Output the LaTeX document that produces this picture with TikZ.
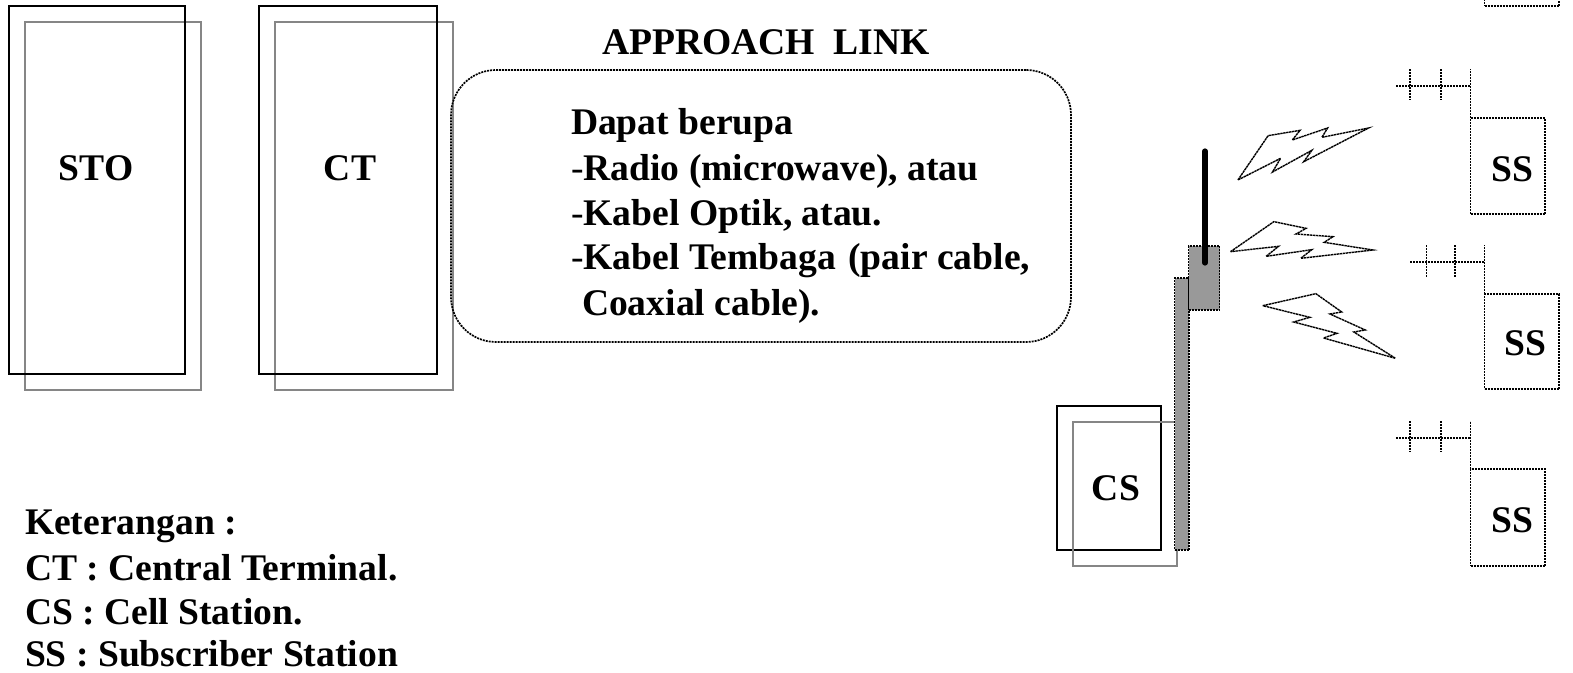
\documentclass[tikz,border=0pt]{standalone}
\usepackage{fontspec}
\setmainfont{Liberation Serif}
\tikzset{
  x=1pt,y=-1pt,
  solidbox/.style={draw=black,line width=1.8pt,inner sep=0,outer sep=0,anchor=north west},
  shadowbox/.style={draw=gray!95,line width=1.8pt,inner sep=0,outer sep=0,anchor=north west},
  dense/.style={draw=black,line width=1.7pt,dash pattern=on 2pt off 1pt},
  densebox/.style={dense,inner sep=0,outer sep=0,anchor=north west},
  graybox/.style={densebox,fill=gray!80!white},
  label/.style={anchor=base west,inner sep=0,outer sep=0,font=\fontsize{37.6}{44}\selectfont\bfseries},
  clabel/.style={label,anchor=base},
  bolt/.style={draw=black,line width=1.4pt,dash pattern=on 2.4pt off 0.6pt,fill=white},
  zoomed/.style={shift={(1042,0)},x=0.336pt,y=-0.33333pt}
}
\begin{document}
\begin{tikzpicture}
\useasboundingbox (0,0) rectangle (1573,672);
\clip (0,0) rectangle (1573,672);
% terminals
\node[shadowbox,minimum width=176pt,minimum height=368pt] (stoB) at (25,22) {};
\node[solidbox,minimum width=176pt,minimum height=368pt] (stoA) at (9,6) {};
\node[shadowbox,minimum width=178pt,minimum height=368pt] (ctB) at (275,22) {};
\node[solidbox,minimum width=178pt,minimum height=368pt] (ctA) at (259,6) {};
\node[clabel] (stoT) at (96,180) {STO};
\node[clabel] (ctT) at (350,180) {CT};
% rounded box
\node[dense,rounded corners=45pt,inner sep=0,outer sep=0,anchor=north west,minimum width=620pt,minimum height=272pt] (link) at (451,70) {};
\node[label] (title) at (602,54) {APPROACH\ \ LINK};
\node[label] (l1) at (571,134) {Dapat berupa};
\node[label] (l2) at (571,180) {\mdseries-\bfseries Radio (microwave), atau};
\node[label] (l3) at (571,225) {\mdseries-\bfseries Kabel Optik, atau.};
\node[label] (l4) at (571,269) {\mdseries-\bfseries Kabel Tembaga\hspace{3pt} (pair cable,};
\node[label] (l5) at (582,315) {Coaxial cable).};
% legend
\node[label] (k0) at (25,534) {Keterangan :};
\node[label] (k1) at (25,580) {CT : Central Terminal.};
\node[label] (k2) at (25,624) {CS : Cell Station.};
\node[label] (k3) at (25,666) {SS : Subscriber Station};
% cell station
\node[solidbox,minimum width=104pt,minimum height=144pt] (csA) at (1057,406) {};
\node[shadowbox,minimum width=104pt,minimum height=144pt] (csB) at (1073,422) {};
\node[clabel] (csT) at (1116,500) {CS};
% tower
\node[graybox,minimum width=14.5pt,minimum height=272pt] (pole) at (1174.5,278) {};
\node[graybox,minimum width=31pt,minimum height=64pt] (head) at (1188.5,246) {};
\coordinate (antTop) at (1205,151);
\coordinate (antBot) at (1205,263);
\draw[line width=5.2pt,line cap=round] (antTop) -- (antBot);
% lightning bolts
\begin{scope}[zoomed]
\draw[bolt] (583,540)--(673,407)--(768,391)--(745,420)--(850,384)--(833,412)--(972,384)--(779,485)--(803,451)--(686,516)--(710,475)--cycle;
\draw[bolt] (561,755)--(690,665)--(786,685)--(756,702)--(866,710)--(840,727)--(985,750)--(770,775)--(803,749)--(667,769)--(704,739)--cycle;
\draw[bolt] (657,917)--(815,881)--(892,936)--(857,942)--(962,990)--(928,996)--(1052,1075)--(838,1014)--(878,1000)--(749,966)--(797,952)--cycle;
\end{scope}
% subscriber stations
\node[densebox,minimum width=74.5pt,minimum height=40pt] (ss0) at (1484.5,-34) {};
\node[densebox,minimum width=74.5pt,minimum height=96pt] (ss1) at (1470.5,118) {};
\node[densebox,minimum width=74.5pt,minimum height=95pt] (ss2) at (1484.5,294) {};
\node[densebox,minimum width=74.5pt,minimum height=97pt] (ss3) at (1470.5,469) {};
\node[clabel] (ss1T) at (1512,181) {SS};
\node[clabel] (ss2T) at (1525,355) {SS};
\node[clabel] (ss3T) at (1512,532) {SS};
% antennas
\coordinate (a1) at (1470.5,69);
\coordinate (a2) at (1484.5,245);
\coordinate (a3) at (1470.5,421);
\draw[dense] (ss1.north west) -- (a1);
\draw[dense] (ss2.north west) -- (a2);
\draw[dense] (ss3.north west) -- (a3);
\draw[dense] (1396,86) -- (1470.5,86);
\draw[dense] (1410,69) -- (1410,100);
\draw[dense] (1441,69) -- (1441,100);
\draw[dense] (1410,262) -- (1484.5,262);
\draw[dense] (1426.5,245) -- (1426.5,277);
\draw[dense] (1455,245) -- (1455,277);
\draw[dense] (1396,438) -- (1470.5,438);
\draw[dense] (1410,421) -- (1410,452);
\draw[dense] (1441,421) -- (1441,452);
\end{tikzpicture}
\end{document}
